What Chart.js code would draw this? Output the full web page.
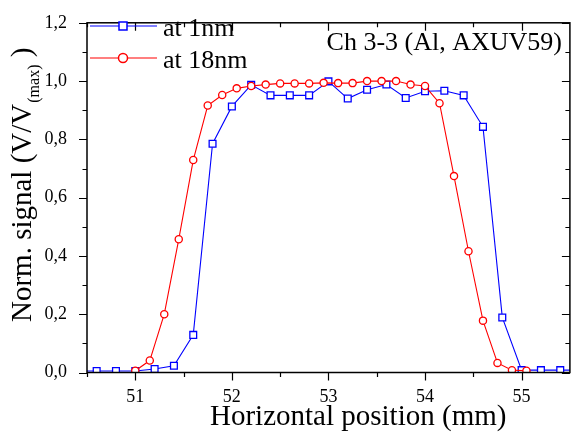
<!DOCTYPE html>
<html><head><meta charset="utf-8">
<script src="https://cdn.jsdelivr.net/npm/chart.js@4/dist/chart.umd.min.js"></script>
<style>
html,body{margin:0;padding:0;background:#fff;overflow:hidden;width:571px;height:435px}
#wrap{position:relative;width:576px;height:435px}
canvas{display:block}
</style></head>
<body><div id="wrap"><canvas id="c" width="576" height="435"></canvas></div>
<script>
// ---- data ----
const seriesNames = ['at 1nm', 'at 18nm'];
const blueX = [50.4, 50.6, 50.8, 51.0, 51.2, 51.4, 51.6, 51.8, 52.0, 52.2, 52.4, 52.6, 52.8, 53.0, 53.2, 53.4, 53.6, 53.8, 54.0, 54.2, 54.4, 54.6, 54.8, 55.0, 55.2, 55.4, 55.6];
const blueY = [0.005, 0.005, 0.005, 0.005, 0.012, 0.023, 0.129, 0.785, 0.913, 0.987, 0.951, 0.951, 0.951, 0.999, 0.940, 0.970, 0.988, 0.942, 0.965, 0.967, 0.951, 0.843, 0.189, 0.008, 0.008, 0.008, 0.008];
const redX = [51.0, 51.15, 51.3, 51.45, 51.6, 51.75, 51.9, 52.05, 52.2, 52.35, 52.5, 52.65, 52.8, 52.95, 53.1, 53.25, 53.4, 53.55, 53.7, 53.85, 54.0, 54.15, 54.3, 54.45, 54.6, 54.75, 54.9, 55.05];
const redY = [0.006, 0.041, 0.200, 0.457, 0.729, 0.916, 0.952, 0.975, 0.983, 0.988, 0.992, 0.992, 0.992, 0.994, 0.993, 0.993, 1.000, 1.000, 1.000, 0.988, 0.983, 0.924, 0.674, 0.416, 0.178, 0.033, 0.008, 0.006];
const xMajorTicks = [51, 52, 53, 54, 55];
const xMinorTicks = [50.5, 51.5, 52.5, 53.5, 54.5];
const yMajorTicks = [0, 0.2, 0.4, 0.6, 0.8, 1.0, 1.2];
const yMinorTicks = [0.1, 0.3, 0.5, 0.7, 0.9, 1.1];
const chartTitle = 'Ch 3-3 (Al, AXUV59)';
const xTitle = 'Horizontal position (mm)';
const yTitleMain = 'Norm. signal (V/V';
const yTitleSub = '(max)';
const yTitleEnd = ' )';

const SERIF = '"Liberation Serif", "Times New Roman", serif';
const BLUE = '#0000ff', RED = '#ff0000';

const toPts = (xs, ys) => xs.map((x, i) => ({x, y: ys[i]}));

const decorPlugin = {
  id: 'decor',
  afterDraw(chart) {
    const {ctx, chartArea: {left, right, top, bottom}, scales: {x, y}} = chart;
    ctx.save();
    // frame
    ctx.strokeStyle = '#000';
    ctx.lineWidth = 1.5;
    ctx.strokeRect(left, top, right - left, bottom - top);
    // ticks
    ctx.lineWidth = 1.2;
    ctx.beginPath();
    const xt = (vals, len) => vals.forEach(v => {
      const px = Math.round(x.getPixelForValue(v)) + 0.5;
      ctx.moveTo(px, bottom); ctx.lineTo(px, bottom + len);
      ctx.moveTo(px, top); ctx.lineTo(px, top + len);
    });
    const yt = (vals, len) => vals.forEach(v => {
      const py = Math.round(y.getPixelForValue(v)) + 0.5;
      ctx.moveTo(left, py); ctx.lineTo(left - len, py);
      ctx.moveTo(right, py); ctx.lineTo(right - len, py);
    });
    xt(xMajorTicks, 8); xt(xMinorTicks, 4.5);
    yt(yMajorTicks, 8); yt(yMinorTicks, 4.5);
    ctx.stroke();

    ctx.fillStyle = '#000';
    // title
    ctx.font = '26px ' + SERIF;
    ctx.textAlign = 'right';
    ctx.textBaseline = 'alphabetic';
    ctx.fillText(chartTitle, 562, 50);

    // x title
    ctx.font = '29px ' + SERIF;
    ctx.textAlign = 'left';
    ctx.fillText(xTitle, 210, 425);

    // y title with subscript
    ctx.save();
    ctx.translate(31, 322);
    ctx.rotate(-Math.PI / 2);
    ctx.font = '29px ' + SERIF;
    ctx.textAlign = 'left';
    ctx.fillText(yTitleMain, 0, 0);
    let w = ctx.measureText(yTitleMain).width;
    ctx.font = '16px ' + SERIF;
    ctx.fillText(yTitleSub, w + 1, 8);
    w += 1 + ctx.measureText(yTitleSub).width;
    ctx.font = '29px ' + SERIF;
    ctx.fillText(yTitleEnd, w, 0);
    ctx.restore();

    // legend
    const rows = [26, 58];
    chart.data.datasets.forEach((ds, i) => {
      const ry = rows[i];
      ctx.strokeStyle = ds.borderColor;
      ctx.lineWidth = 1.2;
      ctx.beginPath(); ctx.moveTo(90, ry); ctx.lineTo(157, ry); ctx.stroke();
      ctx.fillStyle = '#fff';
      ctx.lineWidth = 1.5;
      ctx.beginPath();
      if (ds.pointStyle === 'rect') ctx.rect(119, ry - 4, 8, 8);
      else ctx.arc(123, ry, 4.5, 0, Math.PI * 2);
      ctx.fill(); ctx.stroke();
      ctx.fillStyle = '#000';
      ctx.font = '26px ' + SERIF;
      ctx.textAlign = 'left';
      ctx.fillText(ds.label, 163, ry + 10);
    });
    ctx.restore();
  }
};

new Chart(document.getElementById('c'), {
  type: 'scatter',
  data: {
    datasets: [
      {label: seriesNames[0], data: toPts(blueX, blueY), showLine: true, borderColor: BLUE, backgroundColor: '#fff',
       pointBackgroundColor: '#fff', pointBorderColor: BLUE, pointStyle: 'rect', pointRadius: 4.8, pointBorderWidth: 1.3,
       borderWidth: 1.1, tension: 0, order: 2},
      {label: seriesNames[1], data: toPts(redX, redY), showLine: true, borderColor: RED, backgroundColor: '#fff',
       pointBackgroundColor: '#fff', pointBorderColor: RED, pointStyle: 'circle', pointRadius: 3.6, pointBorderWidth: 1.3,
       borderWidth: 1.1, tension: 0, order: 1}
    ]
  },
  options: {
    responsive: false,
    animation: false,
    devicePixelRatio: 1,
    layout: {padding: {top: 14, right: 3, left: 0, bottom: 0}},
    plugins: {legend: {display: false}, tooltip: {enabled: false}},
    events: [],
    scales: {
      x: {
        type: 'linear', min: 50.5, max: 55.5,
        grid: {display: false}, border: {display: false},
        ticks: {stepSize: 1, color: '#000', font: {family: SERIF, size: 18}, padding: 6, maxRotation: 0},
        afterBuildTicks: s => { s.ticks = xMajorTicks.map(v => ({value: v})); },
        afterFit: s => { s.height = 62.5; }
      },
      y: {
        type: 'linear', min: 0, max: 1.2,
        grid: {display: false}, border: {display: false},
        ticks: {stepSize: 0.2, color: '#000', font: {family: SERIF, size: 18}, padding: 12,
                callback: v => v.toFixed(1).replace('.', ',')},
        afterBuildTicks: s => { s.ticks = yMajorTicks.map(v => ({value: v})); },
        afterFit: s => { s.width = 87; }
      }
    }
  },
  plugins: [decorPlugin]
});
</script>
</body></html>
